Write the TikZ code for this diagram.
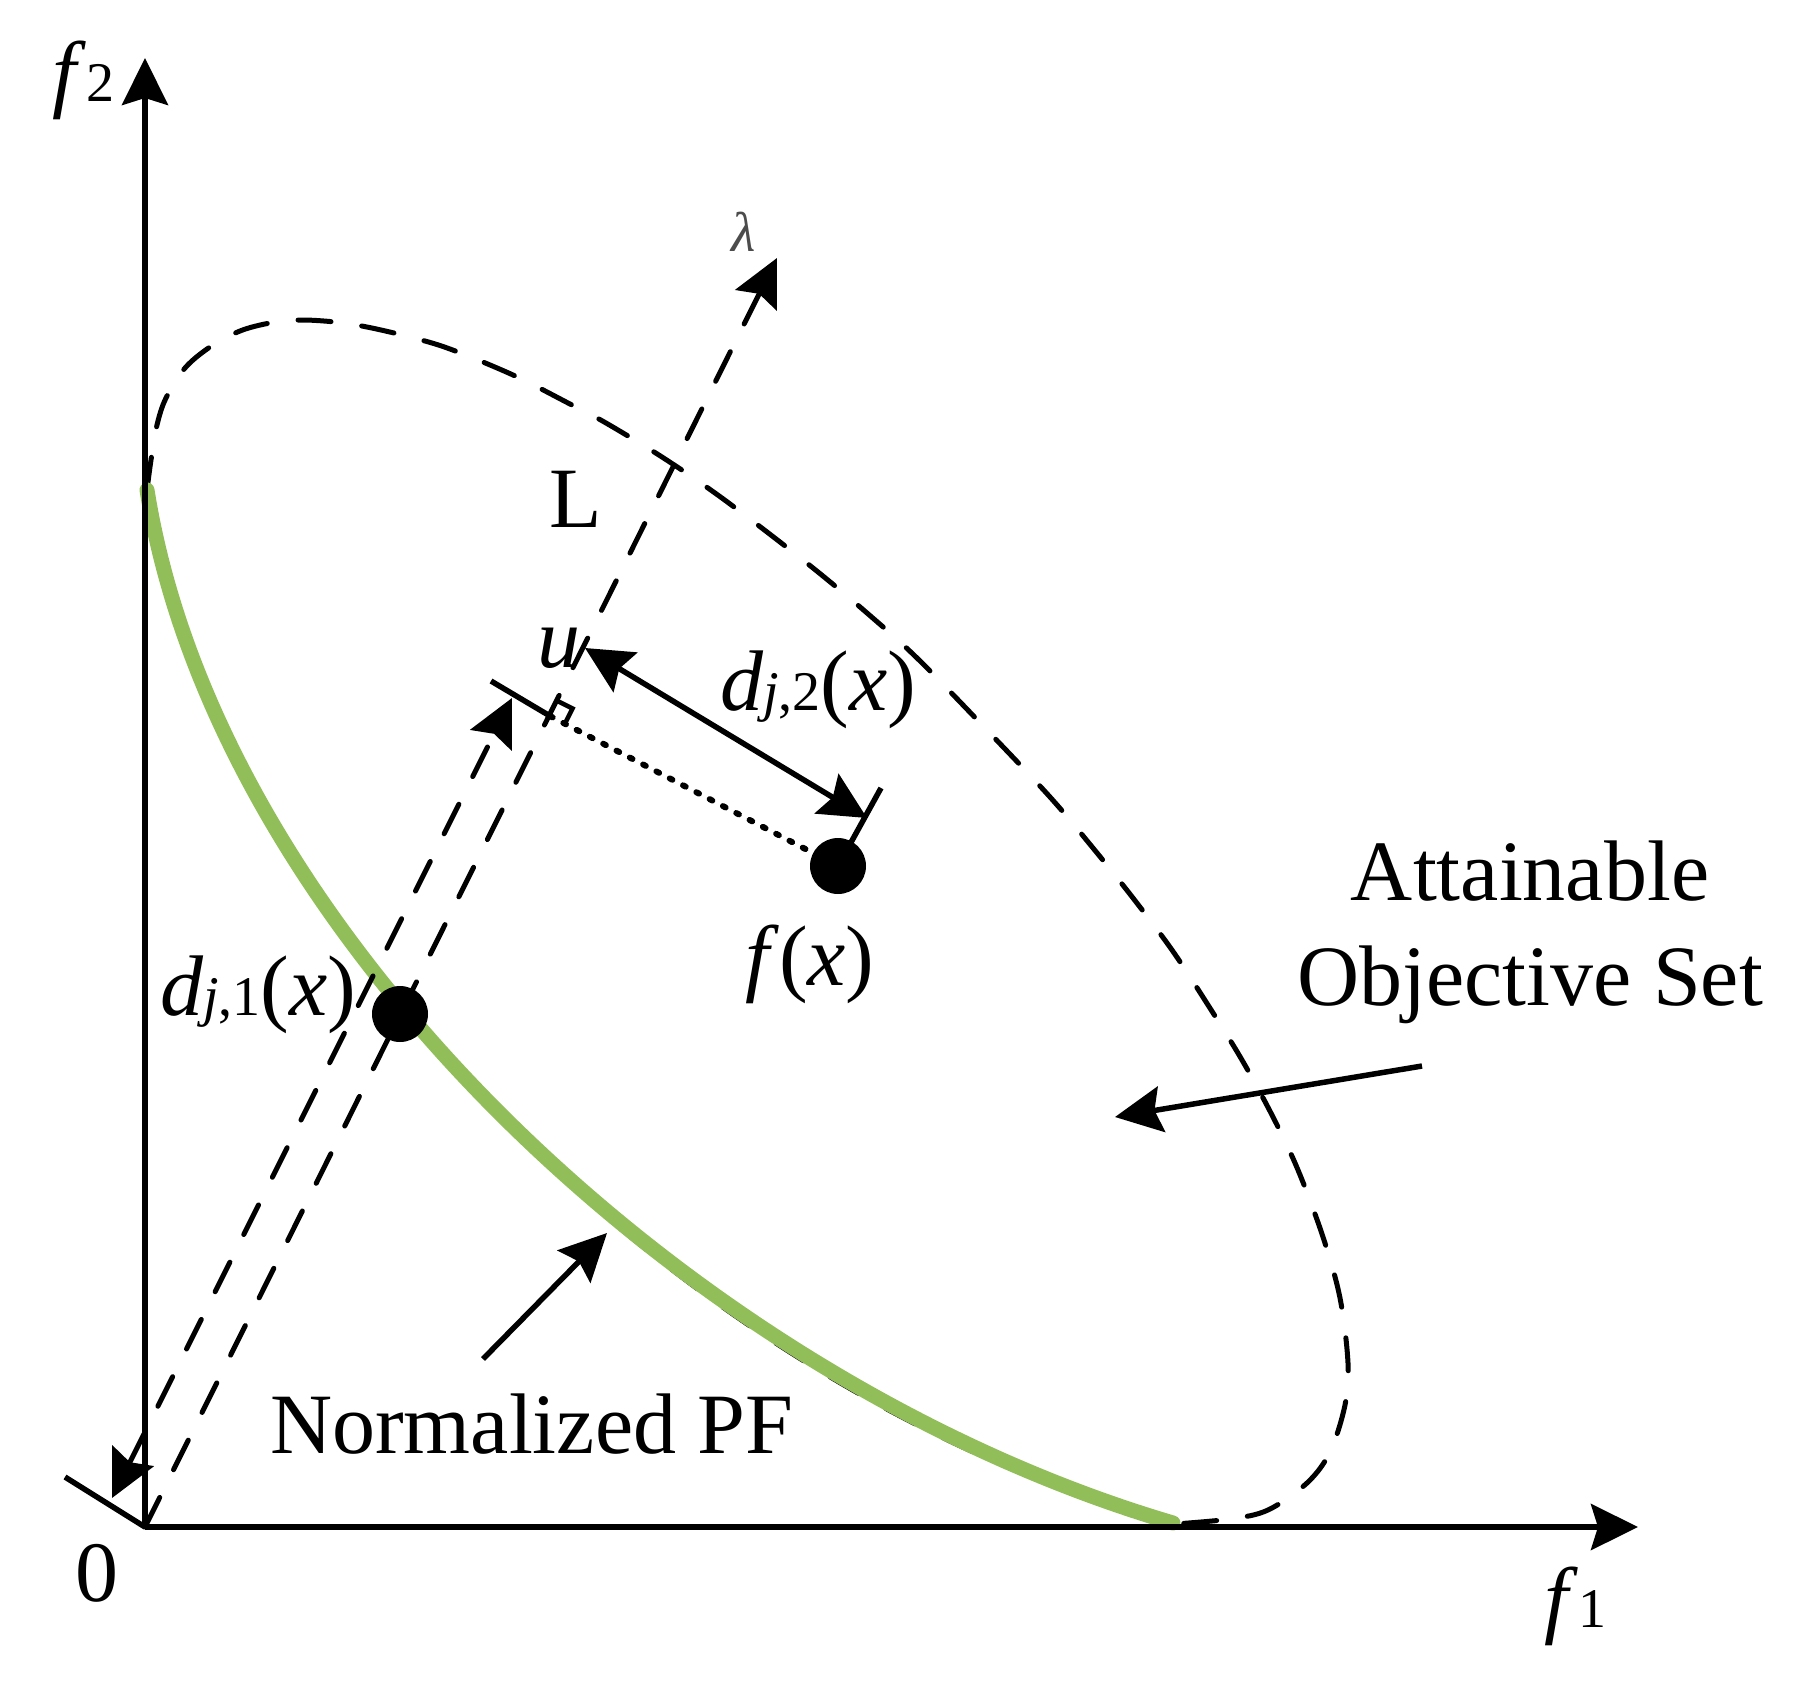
\documentclass[tikz,border=0pt]{standalone}
\usepackage{fontspec}
\setmainfont{Liberation Serif}
\usetikzlibrary{arrows.meta}
\definecolor{pfgreen}{RGB}{146,190,90}
\newcommand\smt[1]{{\fontsize{56}{60}\selectfont #1}}
\begin{document}
\begin{tikzpicture}[x=1pt,y=-1pt,
  >={Stealth[length=47pt,width=46pt,inset=7pt]},
  axisline/.style={line width=5.5pt,->},
  dashline/.style={line width=5pt,line cap=round,dash pattern=on 33pt off 31pt},
  dotline/.style={line width=6pt,line cap=round,dash pattern=on 3pt off 12pt},
  solidline/.style={line width=5.5pt},
  pfline/.style={pfgreen,line width=15pt,line cap=round},
  lbl/.style={inner sep=0pt,font=\fontsize{86}{100}\selectfont},
  dotpt/.style={fill=black}]
\useasboundingbox (0,0) rectangle (1794,1689);
% key points
\coordinate (O) at (145,1527);
\coordinate (F2top) at (145,58);
\coordinate (F1end) at (1638,1527);
\coordinate (Ltip) at (777,258);
\coordinate (Fu) at (550,716);
\coordinate (fx) at (838,866);
\coordinate (pfx) at (400,1014);
\coordinate (A1) at (585,648);
\coordinate (A2) at (867,818);
\coordinate (T2) at (881,788);
\coordinate (B1) at (112,1498);
\coordinate (B2) at (512,698);
\coordinate (T0) at (65,1477);
\coordinate (Tu) at (491,681);
\coordinate (npA) at (483,1359);
\coordinate (npB) at (607,1233);
\coordinate (atA) at (1422,1066);
\coordinate (atB) at (1115,1117);
\coordinate (pfS) at (147,490);
\coordinate (pfE) at (1173,1523);
% attainable set boundary (dashed)
\draw[dashline] plot[smooth,tension=0.55] coordinates {(147,490) (151,460) (157,425) (166,398) (185,368) (210,347) (240,331) (270,323) (300,320) (335,322) (367,327) (410,337) (450,349) (513,375) (570,404) (606,423) (662,457) (715,493) (767,532) (818,572) (867,613) (917,658) (985,728) (1050,797) (1093,848) (1133,898) (1172,950) (1208,1005) (1242,1060) (1273,1117) (1298,1170) (1323,1237) (1340,1298) (1348,1363) (1345,1405) (1330,1452) (1307,1483) (1268,1510) (1230,1519) (1175,1524)};
\draw[dashline] (pfS) .. controls (219,928) and (688,1396) .. (1176,1525);
% normalized PF
\draw[pfline] (pfS) .. controls (217,930) and (688,1380) .. (pfE);
% axes
\draw[axisline] (O) -- (F2top);
\draw[axisline] (O) -- (F1end);
% lambda direction
\draw[dashline,->] (O) -- (Ltip);
% d_{j,1} dimension
\draw[solidline] (T0) -- (O);
\draw[dashline,<->] (B1) -- (B2);
\draw[solidline] (Tu) -- (Fu);
% right angle mark and projection
\draw[line width=4.5pt] (Fu) ++(7.5,-15) -- ++(15,7.5) -- ++(-7.5,15);
\draw[dotline] (Fu) -- (fx);
% d_{j,2} dimension
\draw[solidline] (fx) -- (T2);
\draw[solidline,<->] (A1) -- (A2);
% points
\fill[dotpt] (fx) circle[radius=28pt];
\fill[dotpt] (pfx) circle[radius=28pt];
% pointer arrows
\draw[solidline,->] (npA) -- (npB);
\draw[solidline,->] (atA) -- (atB);
% labels
\node[lbl,anchor=base west] (lf2) at (52,101) {\textit{f}\smt{2}};
\node[lbl,anchor=base west] (lf1) at (1544,1627) {\textit{f}\smt{1}};
\node[lbl,anchor=base] (l0) at (97,1601) {0};
\node[lbl,anchor=base west] (lL) at (549,527) {L};
\node[lbl,anchor=base west] (lu) at (537,667) {\textit{u}};
\node[lbl,anchor=base west] (ldj2) at (720,710) {\textit{d}\smt{\textit{j},2}(\textit{x})};
\node[lbl,anchor=base west] (ldj1) at (160,1015) {\textit{d}\smt{\textit{j},1}(\textit{x})};
\node[lbl,anchor=base west] (lfx) at (745,985) {\textit{f}(\textit{x})};
\node[inner sep=0pt,font=\fontsize{56}{60}\selectfont,text=black!70] (llam) at (744,232) {\textit{λ}};
\node[lbl,anchor=base west] (lnpf) at (270,1453) {Normalized PF};
\node[lbl,anchor=base] (latt1) at (1530,900) {Attainable};
\node[lbl,anchor=base] (latt2) at (1530,1005) {Objective Set};
\end{tikzpicture}
\end{document}
